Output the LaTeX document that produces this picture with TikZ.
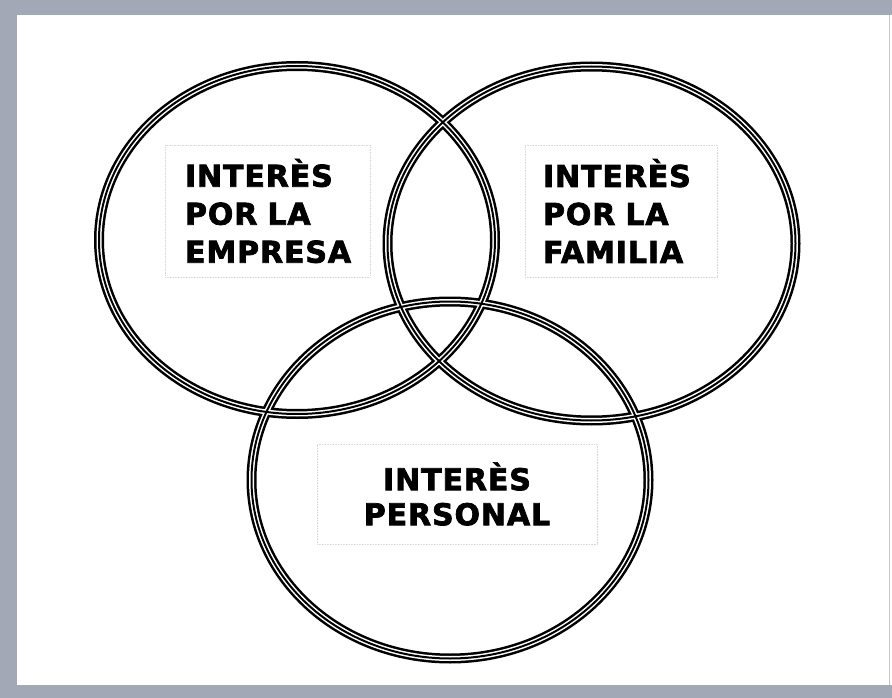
\documentclass[tikz,border=0pt]{standalone}
\usepackage{fontspec}
\usepackage{tikz}
\usepackage{xcolor}
\newfontfamily\venntext{DejaVu Sans}[BoldFeatures={FakeBold=2.4,LetterSpace=3}]
\definecolor{framegrey}{RGB}{163,168,182}
\tikzset{
    interest-box/.style = {draw=gray!30, densely dotted, line width=0.6pt, fill=white, rectangle, inner sep=0pt, font=\venntext\bfseries\fontsize{30}{38}\selectfont},
    interest-title/.style = {align=left},
}

\begin{document}
\begin{tikzpicture}[x=1pt,y=-1pt]
\useasboundingbox (0,0) rectangle (892,698);
\fill[framegrey] (0,0) rectangle (892,698);
\fill[white] (17,15) rectangle (892,685);
\draw[gray!45, line width=0.6pt] (889,15) -- (889,685);
% three rings, drawn in layers so that the crossings mix
\foreach \w/\c in {10pt/black, 5pt/white, 2pt/black}{
    \draw[line width=\w, \c] (297,240) ellipse [x radius=198pt, y radius=174pt];
    \draw[line width=\w, \c] (591.5,243.5) ellipse [x radius=204pt, y radius=177pt];
    \draw[line width=\w, \c] (450,480) ellipse [x radius=198.5pt, y radius=178.5pt];
}
\node [interest-box, interest-title, minimum width=205pt, minimum height=132pt, text width=165pt] (emp) at (267.5,211) {INTERÈS\\POR LA\\EMPRESA};
\node [interest-box, interest-title, minimum width=192pt, minimum height=132pt, text width=156pt] (fam) at (621,211) {INTERÈS\\POR LA\\FAMILIA};
\node [interest-box, align=center, minimum width=280pt, minimum height=100pt, font=\venntext\bfseries\fontsize{30}{35}\selectfont] (per) at (457,494) {INTERÈS\\PERSONAL};
\end{tikzpicture}
\end{document}
